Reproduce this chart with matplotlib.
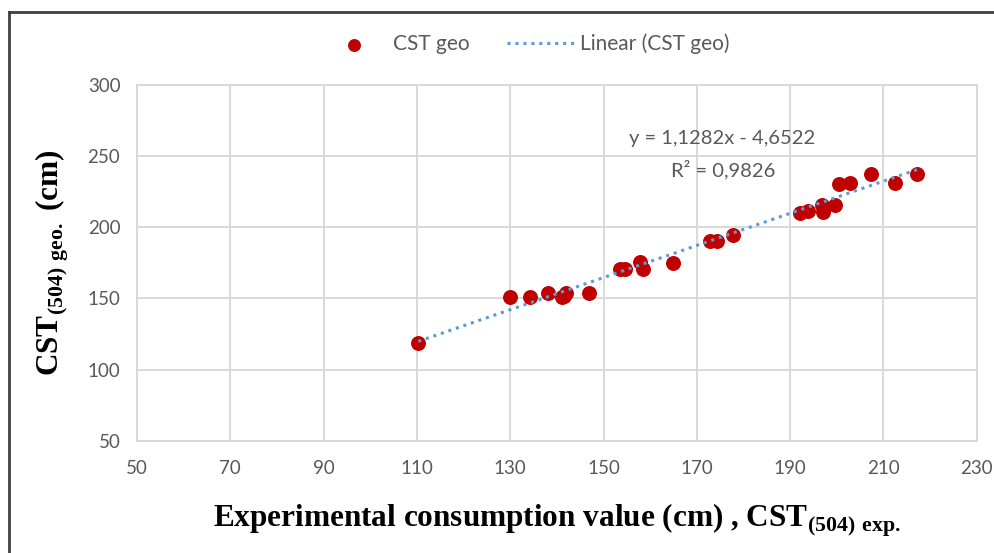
import numpy as np
import matplotlib
matplotlib.use("Agg")
import matplotlib.pyplot as plt
from matplotlib.lines import Line2D

# experimental vs geometric CST(504) values
x_exp = [110.3, 130.0, 134.3, 138.2, 141.0, 141.6, 142.0, 146.8, 153.6, 154.7,
         157.9, 158.4, 164.8, 172.9, 174.3, 177.7, 192.2, 193.9, 196.8, 197.0,
         199.7, 200.4, 202.9, 207.3, 212.4, 217.2]
y_geo = [118.6, 151.1, 151.1, 153.9, 151.1, 151.5, 153.5, 153.5, 170.6, 170.6,
         175.7, 170.4, 174.6, 190.4, 190.4, 194.5, 210.1, 211.5, 215.5, 210.8,
         215.5, 230.1, 231.2, 237.1, 231.2, 237.1]

# trendline as reported on the chart
slope = 1.1282
intercept = -4.6522
r2 = 0.9826

xticks = [50, 70, 90, 110, 130, 150, 170, 190, 210, 230]
yticks = [50, 100, 150, 200, 250, 300]

plt.rcParams['mathtext.fontset'] = 'custom'
plt.rcParams['mathtext.rm'] = 'Liberation Serif:bold'
plt.rcParams['mathtext.bf'] = 'Liberation Serif:bold'

gray = '#595959'
grid_c = '#D9D9D9'

fig = plt.figure(figsize=(9.95, 5.53), dpi=100)
ax = fig.add_axes([0.1377, 0.2031, 0.9816 - 0.1377, 0.8467 - 0.2031])

ax.scatter(x_exp, y_geo, s=95, color='#C00000', zorder=3, label='CST geo')

xl = np.array([min(x_exp), max(x_exp)])
ax.plot(xl, slope * xl + intercept, color='#5B9BD5', lw=2.2,
        linestyle=(0, (1, 1.6)), zorder=4, label='Linear (CST geo)')

ax.set_xlim(50, 230)
ax.set_ylim(50, 300)
ax.set_xticks(xticks)
ax.set_yticks(yticks)
ax.grid(True, color=grid_c, lw=1.4)
ax.set_axisbelow(True)
for s in ax.spines.values():
    s.set_color(grid_c)
    s.set_linewidth(1.4)
ax.tick_params(length=0, labelsize=13.5, labelcolor=gray, pad=12)
ax.tick_params(axis='x', pad=14)
for lab in ax.get_xticklabels() + ax.get_yticklabels():
    lab.set_family('Lato')

eq = 'y = {}x - {}'.format(f'{slope:.4f}'.replace('.', ','),
                           f'{-intercept:.4f}'.replace('.', ','))
ax.text(175.4, 262.6, eq, ha='center', va='center', fontsize=14.5,
        color=gray, family='Lato')
ax.text(175.6, 240.3, 'R² = ' + f'{r2:.4f}'.replace('.', ','), ha='center',
        va='center', fontsize=14.5, color=gray, family='Lato')

ax.set_xlabel(r'Experimental consumption value (cm) , CST$_{\mathrm{(504)\ exp.}}$',
              family='Liberation Serif', fontweight='bold', fontsize=22.5, labelpad=18)
ax.set_ylabel(r'CST$_{\mathrm{(504)\ geo.}}$ (cm)',
              family='Liberation Serif', fontweight='bold', fontsize=22.5, labelpad=12)

fig.legend(loc='center', bbox_to_anchor=(525 / 995, 1 - 44 / 553), ncol=2,
           frameon=False, prop={'family': 'Lato', 'size': 15}, labelcolor=gray,
           handlelength=3.2, handletextpad=0.3, columnspacing=1.8,
           markerscale=0.85)

# outer frame (top and left edges visible)
fig.add_artist(Line2D([8.5 / 995, 8.5 / 995], [0, 1 - 11.5 / 553],
                      transform=fig.transFigure, color='#404040', lw=2))
fig.add_artist(Line2D([8.5 / 995, 1], [1 - 11.5 / 553, 1 - 11.5 / 553],
                      transform=fig.transFigure, color='#404040', lw=2))

fig.savefig('out.png', dpi=100)
